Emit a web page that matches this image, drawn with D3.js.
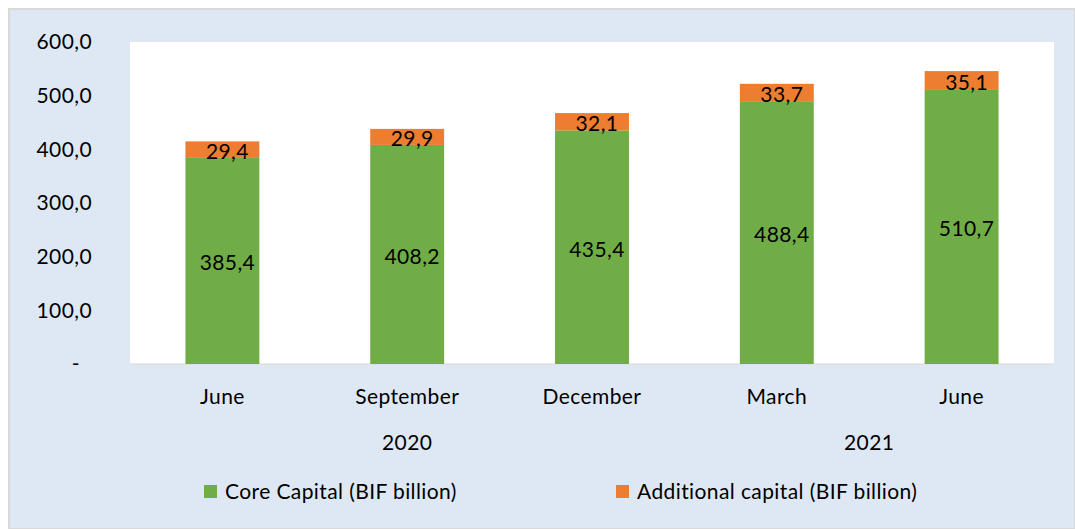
<!DOCTYPE html>
<html>
<head>
<meta charset="utf-8">
<script src="https://cdn.jsdelivr.net/npm/d3@7"></script>
<style>
  body { margin: 0; background: #ffffff; }
  text { font-family: Lato, "Noto Sans", sans-serif; fill: #000; letter-spacing: 0.4px; }
</style>
</head>
<body>
<svg id="chart"></svg>
<script>
const width = 1075
const height = 529

// Data
const months = ["June", "September", "December", "March", "June"]
const years = ["2020", "2020", "2020", "2021", "2021"]
const coreCapital = [385.4, 408.2, 435.4, 488.4, 510.7]
const additionalCapital = [29.4, 29.9, 32.1, 33.7, 35.1]
const yTicks = [0, 100, 200, 300, 400, 500, 600]
const seriesNames = ["Core Capital (BIF billion)", "Additional capital (BIF billion)"]

// Colors
const backgroundColor = "#DEE8F4"
const coreColor = "#70AD47"
const additionalColor = "#ED7D31"

// Plot area
const plot = { left: 130, right: 1054, top: 42, bottom: 364 }
const fontSize = 21

const fmt = v => v === 0 ? "-" : d3.format(".1f")(v).replace(".", ",")

const svg = d3.select("#chart")
    .attr("width", width)
    .attr("height", height)

// outer frame
svg.append("rect")
    .attr("x", 9).attr("y", 9)
    .attr("width", width - 9).attr("height", height - 9)
    .attr("fill", backgroundColor)
    .attr("stroke", "#D9D9D9")
    .attr("stroke-width", 2)

svg.append("rect")
    .attr("x", plot.left).attr("y", plot.top)
    .attr("width", plot.right - plot.left).attr("height", plot.bottom - plot.top)
    .attr("fill", "#FFFFFF")

const x = d3.scaleBand()
    .domain(d3.range(months.length))
    .range([plot.left, plot.right])
    .paddingInner(0.6)
    .paddingOuter(0.3)

const y = d3.scaleLinear()
    .domain([0, 600])
    .range([plot.bottom, plot.top])

// y axis labels
const yAxis = svg.append("g")
    .attr("transform", `translate(${plot.left - 38},0)`)
    .call(d3.axisLeft(y).tickValues(yTicks).tickFormat(fmt).tickSize(0).tickPadding(0))
yAxis.select(".domain").remove()
yAxis.selectAll("text")
    .attr("font-size", fontSize)
    .attr("font-family", "Lato, 'Noto Sans', sans-serif")
    .attr("dx", (d) => d === 0 ? -12 : 0)

// baseline
svg.append("line")
    .attr("x1", plot.left).attr("x2", plot.right)
    .attr("y1", plot.bottom).attr("y2", plot.bottom)
    .attr("stroke", "#D9D9D9")
    .attr("stroke-width", 1)

// stacked bars
const rows = months.map((m, i) => ({ i, core: coreCapital[i], add: additionalCapital[i] }))
const stacked = d3.stack().keys(["core", "add"])(rows)
const colors = [coreColor, additionalColor]

stacked.forEach((layer, k) => {
    svg.append("g")
        .selectAll("rect")
        .data(layer)
        .enter()
        .append("rect")
        .attr("x", d => x(d.data.i))
        .attr("width", x.bandwidth())
        .attr("y", d => y(d[1]))
        .attr("height", d => y(d[0]) - y(d[1]))
        .attr("fill", colors[k])
})

// value labels
stacked.forEach((layer, k) => {
    svg.append("g")
        .selectAll("text")
        .data(layer)
        .enter()
        .append("text")
        .attr("x", d => x(d.data.i) + x.bandwidth() / 2 + 5)
        .attr("y", d => (y(d[0]) + y(d[1])) / 2 + 2)
        .attr("dy", "0.35em")
        .attr("text-anchor", "middle")
        .attr("font-size", fontSize)
        .text(d => fmt(d[1] - d[0]))
})

// month labels
svg.append("g")
    .selectAll("text")
    .data(months)
    .enter()
    .append("text")
    .attr("x", (d, i) => x(i) + x.bandwidth() / 2)
    .attr("y", 397)
    .attr("dy", "0.35em")
    .attr("text-anchor", "middle")
    .attr("font-size", fontSize)
    .text(d => d)

// year labels centred over their months
const yearGroups = d3.groups(d3.range(years.length), i => years[i])
svg.append("g")
    .selectAll("text")
    .data(yearGroups)
    .enter()
    .append("text")
    .attr("x", ([yr, idx]) => (x(idx[0]) + x(idx[idx.length - 1]) + x.bandwidth()) / 2)
    .attr("y", 443)
    .attr("dy", "0.35em")
    .attr("text-anchor", "middle")
    .attr("font-size", fontSize)
    .text(([yr]) => yr)

// legend
const legendX = [204, 616]
const legend = svg.append("g")
    .selectAll("g")
    .data(seriesNames)
    .enter()
    .append("g")
    .attr("transform", (d, i) => `translate(${legendX[i]},485)`)
legend.append("rect")
    .attr("width", 13).attr("height", 13)
    .attr("fill", (d, i) => colors[i])
legend.append("text")
    .attr("x", 21)
    .attr("y", 7)
    .attr("dy", "0.35em")
    .attr("font-size", fontSize)
    .text(d => d)
</script>
</body>
</html>
